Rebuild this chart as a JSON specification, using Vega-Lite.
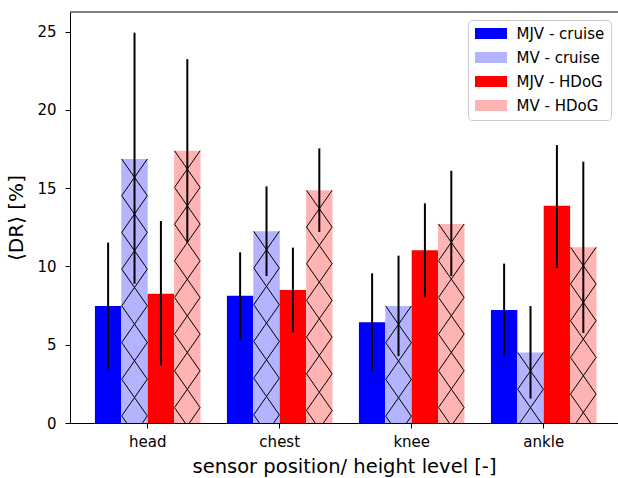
{
  "$schema": "https://vega.github.io/schema/vega-lite/v6.json",
  "width": 548,
  "height": 411,
  "autosize": {"type": "none"},
  "padding": {"left": 70, "top": 12, "right": 0, "bottom": 55},
  "background": "white",
  "config": {"view": {"stroke": null}, "font": "DejaVu Sans"},
  "data": {
    "values": [
      {"position": "head", "series": "MJV - cruise", "value": 7.47, "lo": 3.47, "hi": 11.52},
      {"position": "head", "series": "MV - cruise", "value": 16.86, "lo": 8.9, "hi": 24.93},
      {"position": "head", "series": "MJV - HDoG", "value": 8.26, "lo": 3.68, "hi": 12.9},
      {"position": "head", "series": "MV - HDoG", "value": 17.39, "lo": 11.54, "hi": 23.24},
      {"position": "chest", "series": "MJV - cruise", "value": 8.13, "lo": 5.34, "hi": 10.9},
      {"position": "chest", "series": "MV - cruise", "value": 12.24, "lo": 9.39, "hi": 15.11},
      {"position": "chest", "series": "MJV - HDoG", "value": 8.49, "lo": 5.79, "hi": 11.2},
      {"position": "chest", "series": "MV - HDoG", "value": 14.86, "lo": 12.2, "hi": 17.54},
      {"position": "knee", "series": "MJV - cruise", "value": 6.43, "lo": 3.28, "hi": 9.56},
      {"position": "knee", "series": "MV - cruise", "value": 7.47, "lo": 4.28, "hi": 10.69},
      {"position": "knee", "series": "MJV - HDoG", "value": 11.03, "lo": 8.03, "hi": 14.03},
      {"position": "knee", "series": "MV - HDoG", "value": 12.71, "lo": 9.39, "hi": 16.11},
      {"position": "ankle", "series": "MJV - cruise", "value": 7.22, "lo": 4.28, "hi": 10.18},
      {"position": "ankle", "series": "MV - cruise", "value": 4.5, "lo": 1.56, "hi": 7.47},
      {"position": "ankle", "series": "MJV - HDoG", "value": 13.88, "lo": 9.9, "hi": 17.75},
      {"position": "ankle", "series": "MV - HDoG", "value": 11.22, "lo": 5.75, "hi": 16.69}
    ]
  },
  "layer": [
    {
      "mark": {"type": "bar"},
      "encoding": {
        "x": {
          "field": "position", "type": "nominal", "sort": ["head", "chest", "knee", "ankle"],
          "scale": {"paddingInner": 0.2, "paddingOuter": 0.1758, "align": 0.537},
          "axis": {"title": "sensor position/ height level [-]", "labelAngle": 0, "labelFontSize": 15, "labelColor": "black", "labelPadding": 6, "tickSize": 5, "tickColor": "black", "domainColor": "black", "titleFontSize": 19.5, "titleFontWeight": "normal", "titleColor": "black", "titlePadding": 8, "grid": false}
        },
        "xOffset": {"field": "series", "type": "nominal", "sort": ["MJV - cruise", "MV - cruise", "MJV - HDoG", "MV - HDoG"], "scale": {"paddingInner": 0, "paddingOuter": 0}},
        "y": {
          "field": "value", "type": "quantitative", "title": "⟨DR⟩ [%]",
          "scale": {"domain": [0, 26.25], "nice": false, "zero": true},
          "axis": {"values": [0, 5, 10, 15, 20, 25], "title": "⟨DR⟩ [%]", "labelFontSize": 15, "labelColor": "black", "labelPadding": 9, "tickSize": 5, "tickColor": "black", "domainColor": "black", "grid": false, "titleFontSize": 20, "titleFontWeight": "normal", "titleColor": "black", "titlePadding": 10}
        },
        "color": {
          "field": "series", "type": "nominal",
          "scale": {"domain": ["MJV - cruise", "MV - cruise", "MJV - HDoG", "MV - HDoG"], "range": ["#0000ff", "#b3b3ff", "#ff0000", "#ffb3b3"]},
          "legend": {"orient": "none", "legendX": 398, "legendY": 8, "title": null, "symbolType": "M-2.91,-1H2.91V1H-2.91Z", "symbolSize": 121, "symbolOffset": 9.5, "symbolStrokeWidth": 0, "symbolOpacity": 1, "labelFontSize": 15, "labelFont": "DejaVu Sans", "labelColor": "black", "labelOffset": 18, "rowPadding": 8, "padding": 6, "strokeColor": "#cccccc", "fillColor": "white", "cornerRadius": 4, "labelLimit": 200}
        }
      }
    },
    {
      "transform": [{"filter": "datum.series == 'MV - cruise' || datum.series == 'MV - HDoG'"}],
      "mark": {"type": "point", "clip": true, "shape": "M-0.97,0L0.97,2.78L-0.97,5.56L0.97,8.34L-0.97,11.12L0.97,13.9L-0.97,16.68L0.97,19.46L-0.97,22.24M0.97,0L-0.97,2.78L0.97,5.56L-0.97,8.34L0.97,11.12L-0.97,13.9L0.97,16.68L-0.97,19.46L0.97,22.24", "size": 697, "filled": false, "stroke": "black", "strokeWidth": 1, "strokeJoin": "bevel", "strokeCap": "butt", "opacity": 1},
      "encoding": {
        "x": {"field": "position", "type": "nominal", "sort": ["head", "chest", "knee", "ankle"]},
        "xOffset": {"field": "series", "type": "nominal", "sort": ["MJV - cruise", "MV - cruise", "MJV - HDoG", "MV - HDoG"]},
        "y": {"field": "value", "type": "quantitative", "title": "⟨DR⟩ [%]"}
      }
    },
    {
      "mark": {"type": "rule", "color": "black", "strokeWidth": 2},
      "encoding": {
        "x": {"field": "position", "type": "nominal", "sort": ["head", "chest", "knee", "ankle"]},
        "xOffset": {"field": "series", "type": "nominal", "sort": ["MJV - cruise", "MV - cruise", "MJV - HDoG", "MV - HDoG"]},
        "y": {"field": "lo", "type": "quantitative", "title": "⟨DR⟩ [%]"},
        "y2": {"field": "hi"}
      }
    },
    {
      "data": {"values": [{"edge": "top"}]},
      "mark": {"type": "rule", "color": "black", "strokeWidth": 1},
      "encoding": {"y": {"datum": 26.25}}
    }
  ]
}
